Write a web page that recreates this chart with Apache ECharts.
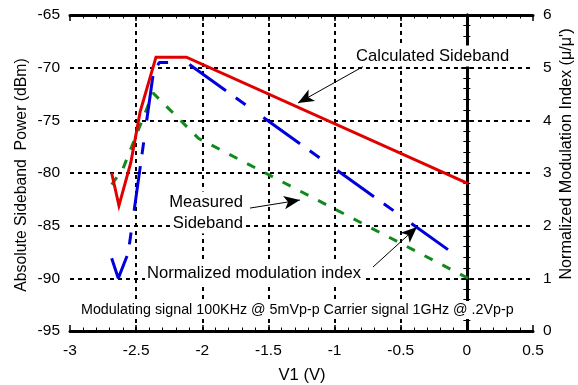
<!DOCTYPE html>
<html>
<head>
<meta charset="utf-8">
<script src="https://cdn.jsdelivr.net/npm/echarts@6/dist/echarts.min.js"></script>
<style>
html,body{margin:0;padding:0;background:#fff;}
#c{width:578px;height:385px;}
</style>
</head>
<body>
<div id="c"></div>
<script>
// Calculated sideband (dBm, left axis)
const calcX = [-2.685, -2.63, -2.54, -2.47, -2.35, -2.12, 0.01];
const calcY = [-80.0, -83.1, -79.0, -74.2, -69.0, -69.0, -81.0];
// Measured sideband (dBm, left axis)
const measX = [-2.685, -2.6, -2.372, -2.03, 0.01];
const measY = [-81.1, -79.6, -72.4, -76.7, -90.0];
// Normalized modulation index (right axis)
const normX = [-2.685, -2.635, -2.56, -2.37, -2.325, -2.12, -0.14];
const normY = [1.38, 1.0, 1.48, 4.9, 5.1, 5.1, 1.54];

const xTicks = [-3, -2.5, -2, -1.5, -1, -0.5, 0, 0.5];
const leftTicks = [-95, -90, -85, -80, -75, -70, -65];
const rightTicks = [0, 1, 2, 3, 4, 5, 6];

// annotation arrows: [fromX, fromY, toX, toY] in left-axis data units
const arrowCalc = [-0.785, -69.9, -1.277, -73.36];
const arrowMeas = [-1.639, -83.33, -1.262, -82.57];
const arrowNorm = [-0.71, -88.93, -0.377, -85.13];

const FONT = "'Liberation Sans', Arial, Helvetica, sans-serif";
const pair = (xs, ys) => xs.map((x, i) => [x, ys[i]]);

const chart = echarts.init(document.getElementById('c'));

const axisLine = {show: true, lineStyle: {color: '#000', width: 3}};
const tick = {show: true, inside: true, length: 6, lineStyle: {color: '#000', width: 1.5}};
const minor = {show: true, splitNumber: 5, length: 3.5, lineStyle: {color: '#000', width: 1}};
const gridStyle = {color: '#000', width: 2, type: [4, 4]};
const lbl = {color: '#000', fontFamily: FONT, fontSize: 15.5};

function arrowLine(a) {
  return [{coord: [a[0], a[1]], symbol: 'none'}, {coord: [a[2], a[3]], symbol: 'arrow', symbolSize: [10, 16]}];
}
function note(x, y, text, size, align) {
  return {type: 'text', x: x, y: y, z: 1, style: {
    text: text, font: size + 'px ' + FONT, fill: '#000',
    align: align || 'left', verticalAlign: 'middle',
    backgroundColor: '#fff', padding: [2, 2, 2, 2]
  }};
}

chart.setOption({
  animation: false,
  backgroundColor: '#fff',
  grid: {left: 70, right: 45, top: 15, bottom: 54, containLabel: false},
  xAxis: [{
    type: 'value', min: -3, max: 0.5, interval: 0.5, position: 'bottom',
    axisLine, axisTick: tick, minorTick: minor,
    splitLine: {show: true, showMinLine: false, showMaxLine: false, lineStyle: gridStyle},
    axisLabel: Object.assign({margin: 12, formatter: v => xTicks.includes(v) ? String(v) : ''}, lbl)
  }, {
    type: 'value', min: -3, max: 0.5, interval: 0.5, position: 'top',
    axisLine, axisTick: tick, minorTick: minor, splitLine: {show: false},
    axisLabel: {show: false}
  }],
  yAxis: [{
    type: 'value', min: -95, max: -65, interval: 5, position: 'left',
    axisLine, axisTick: tick, minorTick: minor,
    splitLine: {show: true, showMinLine: false, showMaxLine: false, lineStyle: gridStyle},
    axisLabel: Object.assign({margin: 10, formatter: v => leftTicks.includes(v) ? String(v) : ''}, lbl)
  }, {
    type: 'value', min: 0, max: 6, interval: 1, position: 'right',
    axisLine, axisTick: tick, minorTick: minor, splitLine: {show: false},
    axisLabel: Object.assign({margin: 10, formatter: v => rightTicks.includes(v) ? String(v) : ''}, lbl)
  }],
  series: [{
    name: 'Calculated Sideband', type: 'line', xAxisIndex: 0, yAxisIndex: 0,
    data: pair(calcX, calcY), showSymbol: false, symbol: 'none',
    lineStyle: {color: '#e00000', width: 3, join: 'miter'},
    markLine: {
      silent: true, animation: false,
      lineStyle: {color: '#000', width: 1, type: 'solid'},
      label: {show: false},
      data: [arrowLine(arrowCalc), arrowLine(arrowMeas), arrowLine(arrowNorm)]
    },
    z: 4
  }, {
    name: 'Measured Sideband', type: 'line', xAxisIndex: 0, yAxisIndex: 0,
    data: pair(measX, measY), showSymbol: false, symbol: 'none',
    lineStyle: {color: '#118a1c', width: 3, type: [9, 11]},
    z: 3
  }, {
    name: 'Normalized modulation index', type: 'line', xAxisIndex: 0, yAxisIndex: 1,
    data: pair(normX, normY), showSymbol: false, symbol: 'none',
    lineStyle: {color: '#0000dd', width: 3, type: [45, 12, 12, 22]},
    z: 3
  }],
  graphic: [
    note(354, 56, 'Calculated Sideband', 16.6),
    note(245, 202, 'Measured', 16.6, 'right'),
    note(245, 223, 'Sideband', 16.6, 'right'),
    note(145, 273, 'Normalized modulation index', 16.6),
    note(79, 310, 'Modulating signal 100KHz @ 5mVp-p Carrier signal 1GHz @ .2Vp-p', 14.3),
    {type: 'text', x: 302, y: 375, style: {text: 'V1 (V)', font: '16.6px ' + FONT, fill: '#000', align: 'center', verticalAlign: 'middle'}},
    {type: 'text', x: 22, y: 175, rotation: Math.PI / 2, style: {text: 'Absolute Sideband  Power (dBm)', font: '15.8px ' + FONT, fill: '#000', align: 'center', verticalAlign: 'middle'}},
    {type: 'text', x: 567, y: 154, rotation: Math.PI / 2, style: {text: "Normalized Modulation Index (\u03bc/\u03bc')", font: '16.2px ' + FONT, fill: '#000', align: 'center', verticalAlign: 'middle'}}
  ]
});
</script>
</body>
</html>
